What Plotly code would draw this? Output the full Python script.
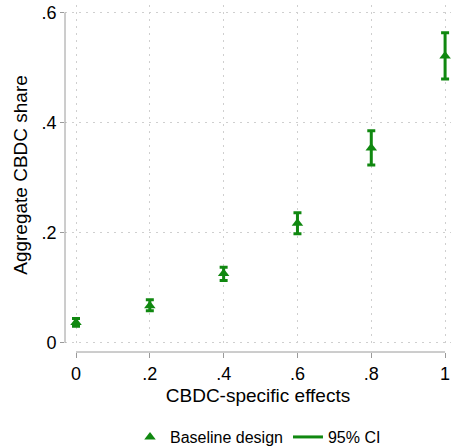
import plotly.graph_objects as go

# Data
effects = [0, 0.2, 0.4, 0.6, 0.8, 1.0]
share = [0.037, 0.0675, 0.126, 0.217, 0.354, 0.521]
ci_low = [0.030, 0.058, 0.113, 0.198, 0.323, 0.479]
ci_high = [0.044, 0.078, 0.137, 0.236, 0.385, 0.563]

x_tickvals = [0, 0.2, 0.4, 0.6, 0.8, 1.0]
x_ticktext = ["0", ".2", ".4", ".6", ".8", "1"]
y_tickvals = [0, 0.2, 0.4, 0.6]
y_ticktext = ["0", ".2", ".4", ".6"]

GREEN = "rgb(16,136,16)"
AXIS = "#9a9a9a"
GRID = "#cfcfcf"
FONT = "Liberation Sans, Arial, sans-serif"

W, H = 451, 446
ml, mr, mt, mb = 65, 0, 5, 86
plot_h = H - mt - mb
ydom0 = ((H - mb) - 345) / plot_h
xpos = ((H - mb) - 352) / plot_h

err_plus = [h - v for h, v in zip(ci_high, share)]
err_minus = [v - l for v, l in zip(share, ci_low)]

fig = go.Figure()
fig.add_trace(go.Scatter(
    x=effects, y=share, mode="markers", name="Baseline design",
    marker=dict(symbol="triangle-up", size=10, color=GREEN),
    error_y=dict(type="data", array=err_plus, arrayminus=err_minus,
                 color=GREEN, thickness=3, width=4),
))
fig.add_trace(go.Scatter(
    x=[None], y=[None], mode="lines", name="95% CI",
    line=dict(color=GREEN, width=3),
))

# axis lines spanning tick range (Stata style)
fig.add_shape(type="line", xref="paper", yref="y", x0=0, x1=0, y0=0, y1=0.6,
              line=dict(color=AXIS, width=1))
fig.add_shape(type="line", xref="x", yref="paper", x0=0, x1=1, y0=xpos, y1=xpos,
              line=dict(color=AXIS, width=1))

fig.update_layout(
    width=W, height=H,
    margin=dict(l=ml, r=mr, t=mt, b=mb, autoexpand=False),
    paper_bgcolor="white", plot_bgcolor="white",
    font=dict(family=FONT, size=16, color="black"),
    xaxis=dict(
        range=[-0.0298, 1.016], tickvals=x_tickvals, ticktext=x_ticktext,
        showline=False, zeroline=False, automargin=False,
        showgrid=True, gridcolor=GRID, griddash="1.5px,5.5px", gridwidth=1,
        ticks="outside", ticklen=5, tickcolor=AXIS,
        anchor="free", position=xpos,
        tickfont=dict(size=18),
        title=dict(text="CBDC-specific effects", font=dict(size=19), standoff=6),
    ),
    yaxis=dict(
        range=[-0.004, 0.6135], tickvals=y_tickvals, ticktext=y_ticktext,
        domain=[ydom0, 1], automargin=False,
        showline=False, zeroline=False,
        showgrid=True, gridcolor=GRID, griddash="1.5px,5.5px", gridwidth=1,
        ticks="outside", ticklen=4, tickcolor=AXIS,
        tickfont=dict(size=18),
        title=dict(text="Aggregate CBDC share", font=dict(size=19), standoff=8),
    ),
    legend=dict(orientation="h", x=0.5, xanchor="center", y=-0.217, yanchor="middle",
                font=dict(size=16)),
    showlegend=True,
)

fig.write_html("out.html")
